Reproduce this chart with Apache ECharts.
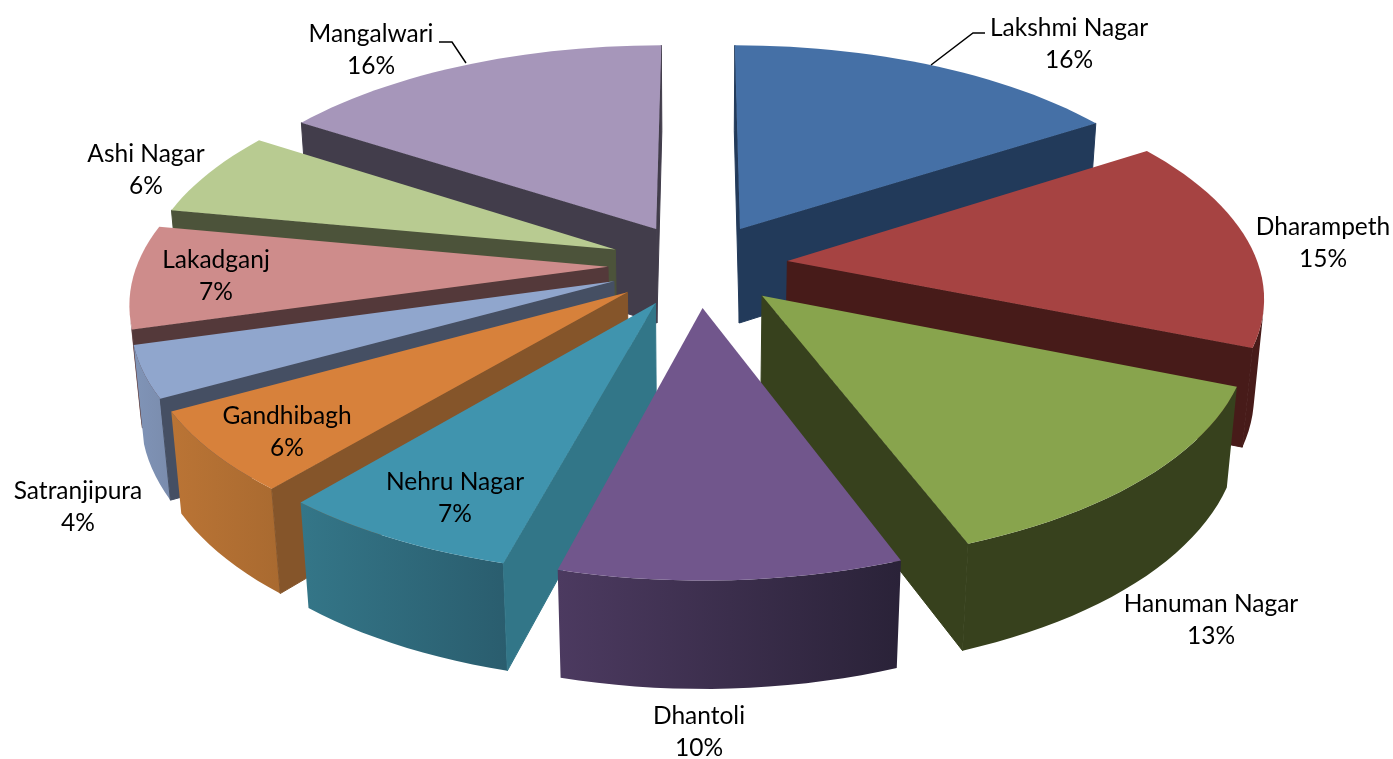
<!DOCTYPE html>
<html>
<head>
<meta charset="utf-8">
<title>Pie</title>
<script src="https://cdn.jsdelivr.net/npm/echarts@6/dist/echarts.min.js"></script>
<style>
  html, body { margin: 0; padding: 0; background: #fff; }
  #chart { width: 1393px; height: 759px; }
</style>
</head>
<body>
<div id="chart"></div>
<script>
const categories = ['Lakshmi Nagar', 'Dharampeth', 'Hanuman Nagar', 'Dhantoli', 'Nehru Nagar', 'Gandhibagh', 'Satranjipura', 'Lakadganj', 'Ashi Nagar', 'Mangalwari']
// they round to the printed percentages
const shares = [15.86, 15.28, 13.14, 9.87, 6.95, 5.8, 3.7, 7.4, 6.2, 15.8]

// styles per slice
const topColors = ['#4570a6', '#a64342', '#88a44d', '#71568c', '#4094ae', '#d7813b', '#90a6cd', '#ce8c8b', '#b8cb91', '#a696ba']
const sideColors = ['#223a5a', '#471b19', '#37411d', '#3a2d4c', '#327688', '#85552a', '#454f63', '#54393a', '#4c533a', '#423d4b']
const wallLeft = ['#223a5a', '#471b19', '#37411d', '#4c3a60', '#347688', '#ba7435', '#8094b7', '#94696a', '#4c533a', '#423d4b']
const wallRight = ['#223a5a', '#471b19', '#37411d', '#2a2238', '#2a5d6e', '#a96a30', '#7a8cad', '#94696a', '#4c533a', '#423d4b']

// label centres, px
const labelX = [1069, 1323, 1211, 699, 455, 287, 78, 216, 146, 371]
const labelY = [44, 243, 620, 732, 498, 432, 507, 276, 170, 50]

// view of the pie
const cx = 698, cy = 265
const radius = 471, explode = 90, depth = 110
const tilt = 27.8 * Math.PI / 180, camera = 2900

const total = shares.reduce((a, b) => a + b, 0)

function project (x, z, h) {
  const screenY = z * Math.sin(tilt) + h * Math.cos(tilt)
  const dist = z * Math.cos(tilt) - h * Math.sin(tilt)
  const s = camera / (camera - dist)
  return [cx + x * s, cy + screenY * s]
}

function signedArea (pts) {
  let area = 0
  pts.forEach((p, i) => {
    const q = pts[(i + 1) % pts.length]
    area += p[0] * q[1] - q[0] * p[1]
  })
  return area
}

function renderSlice (params, api) {
  const idx = params.dataIndex
  const value = api.value(0)
  const before = shares.slice(0, idx).reduce((a, b) => a + b, 0)
  const start = before / total * Math.PI * 2
  const end = start + value / total * Math.PI * 2
  const mid = (start + end) / 2
  const ox = explode * Math.sin(mid), oz = -explode * Math.cos(mid)
  const rim = (a, h) => project(ox + radius * Math.sin(a), oz - radius * Math.cos(a), h)
  const apex = h => project(ox, oz, h)

  // slices further back are painted first
  const order = Math.round((1 - Math.cos(mid)) * 100) * 10
  const children = []
  const addPoly = (points, fill, z2, stroke) => {
    children.push({
      type: 'polygon',
      z2: z2,
      shape: { points: points },
      style: { fill: fill, stroke: stroke || null, lineWidth: stroke ? 1 : 0 }
    })
  }

  // outer wall, only the part that faces us
  const steps = Math.max(4, Math.ceil((end - start) / (Math.PI / 90)))
  const wallTop = [], wallBottom = []
  for (let i = 0; i < steps; i++) {
    const a1 = start + (end - start) * i / steps
    const a2 = start + (end - start) * (i + 1) / steps
    const quad = [rim(a1, 0), rim(a2, 0), rim(a2, depth), rim(a1, depth)]
    if (signedArea(quad) < 0) {
      if (!wallTop.length) {
        wallTop.push(quad[0])
        wallBottom.push(quad[3])
      }
      wallTop.push(quad[1])
      wallBottom.push(quad[2])
    }
  }
  if (wallTop.length) {
    const xs = wallTop.concat(wallBottom).map(p => p[0])
    addPoly(wallTop.concat(wallBottom.reverse()), new echarts.graphic.LinearGradient(
      Math.min(...xs), 0, Math.max(...xs), 0,
      [{ offset: 0, color: wallLeft[idx] }, { offset: 1, color: wallRight[idx] }],
      true
    ), order + 1)
  }

  // the two cut faces, stroked to hide the seam against the wall
  const cutStart = [apex(0), rim(start, 0), rim(start, depth), apex(depth)]
  const cutEnd = [rim(end, 0), apex(0), apex(depth), rim(end, depth)]
  if (signedArea(cutStart) < 0) addPoly(cutStart, sideColors[idx], order + 1, sideColors[idx])
  if (signedArea(cutEnd) < 0) addPoly(cutEnd, sideColors[idx], order + 1, sideColors[idx])

  // top face
  const top = [apex(0)]
  for (let i = 0; i <= steps; i++) top.push(rim(start + (end - start) * i / steps, 0))
  addPoly(top, topColors[idx], order + 2)

  // label
  children.push({
    type: 'text',
    z2: 100000,
    x: labelX[idx],
    y: labelY[idx],
    style: {
      text: categories[idx] + '\n' + Math.round(value / total * 100) + '%',
      fill: '#000',
      font: '24.5px Lato, "Open Sans", sans-serif',
      align: 'center',
      verticalAlign: 'middle',
      lineHeight: 32
    }
  })
  return { type: 'group', children: children }
}

const chart = echarts.init(document.getElementById('chart'))
chart.setOption({
  animation: false,
  backgroundColor: '#fff',
  series: [{
    type: 'custom',
    coordinateSystem: 'none',
    renderItem: renderSlice,
    data: shares.map((v, i) => ({ name: categories[i], value: [v] }))
  }],
  graphic: [
    { type: 'polyline', shape: { points: [[931, 65], [973, 33], [985, 33]] }, style: { stroke: '#000', lineWidth: 1.5, fill: null }, z: 10 },
    { type: 'polyline', shape: { points: [[439, 42], [452, 42], [466, 63]] }, style: { stroke: '#000', lineWidth: 1.5, fill: null }, z: 10 }
  ]
})
</script>
</body>
</html>
